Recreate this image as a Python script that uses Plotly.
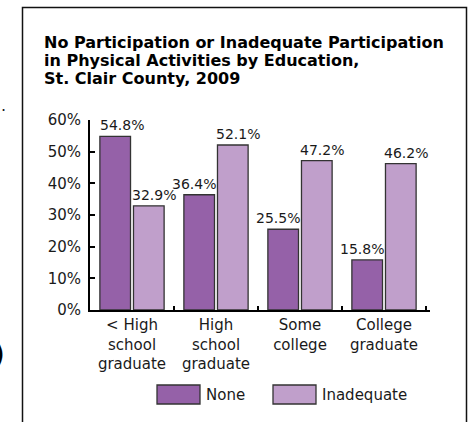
import plotly.graph_objects as go

CATEGORIES = [
    "< High<br>school<br>graduate",
    "High<br>school<br>graduate",
    "Some<br>college",
    "College<br>graduate",
]
SERIES_NAMES = ["None", "Inadequate"]
NONE_PCT = [54.8, 36.4, 25.5, 15.8]
INADEQUATE_PCT = [32.9, 52.1, 47.2, 46.2]
Y_TICKS = [0, 10, 20, 30, 40, 50, 60]

TITLE_LINES = [
    "No Participation or Inadequate Participation",
    "in Physical Activities by Education,",
    "St. Clair County, 2009",
]

COLORS = ["#9561a8", "#c09fcb"]
FONT = "DejaVu Sans, Verdana, sans-serif"

W, H = 470, 422
L, R, T, B = 90, 40, 120, 112


def px(x):
    """Pixel x -> paper x."""
    return (x - L) / (W - L - R)


def py(y):
    """Pixel y (from top) -> paper y."""
    return (H - B - y) / (H - T - B)


fig = go.Figure()
for name, values, color in zip(SERIES_NAMES, [NONE_PCT, INADEQUATE_PCT], COLORS):
    fig.add_trace(
        go.Bar(
            x=CATEGORIES,
            y=values,
            name=name,
            marker=dict(color=color, line=dict(color="#333333", width=1.3)),
            showlegend=False,
            hoverinfo="skip",
        )
    )

annotations = []
for i, (cat, v_none, v_inad) in enumerate(zip(CATEGORIES, NONE_PCT, INADEQUATE_PCT)):
    if i == 0:
        none_shift, none_anchor = -34, "left"
    else:
        none_shift, none_anchor = -22, "center"
    annotations.append(
        dict(x=cat, y=v_none, text=f"{v_none:.1f}%", showarrow=False,
             xanchor=none_anchor, yanchor="bottom", xshift=none_shift, yshift=1)
    )
    annotations.append(
        dict(x=cat, y=v_inad, text=f"{v_inad:.1f}%", showarrow=False,
             xanchor="center", yanchor="bottom", xshift=22, yshift=1)
    )

# title, one line per annotation to keep the tight line spacing
for line, y_mid in zip(TITLE_LINES, [42.5, 60.5, 78.5]):
    annotations.append(
        dict(xref="paper", yref="paper", x=px(42), y=py(y_mid), text=f"<b>{line}</b>",
             showarrow=False, xanchor="left", yanchor="middle",
             font=dict(size=16, color="#000000"))
    )

shapes = [
    dict(type="rect", xref="paper", yref="paper",
         x0=px(22.5), x1=px(466.5), y0=py(440), y1=py(7.5),
         line=dict(color="#111111", width=1.5), layer="below"),
]

# custom legend with wide swatches
legend_spots = [(157, 200), (273, 316)]
for name, color, (x0, x1) in zip(SERIES_NAMES, COLORS, legend_spots):
    shapes.append(
        dict(type="rect", xref="paper", yref="paper",
             x0=px(x0), x1=px(x1), y0=py(404), y1=py(385),
             fillcolor=color, line=dict(color="#333333", width=1.3))
    )
    annotations.append(
        dict(xref="paper", yref="paper", x=px(x1 + 4), y=py(395),
             text=name, showarrow=False, xanchor="left", yanchor="middle",
             font=dict(size=15))
    )

# stray marks from the surrounding page
annotations.append(
    dict(xref="paper", yref="paper", x=px(8), y=py(117), text=".",
         showarrow=False, xanchor="right", yanchor="bottom", font=dict(size=16))
)
annotations.append(
    dict(xref="paper", yref="paper", x=px(7), y=py(354), text="<b>)</b>",
         showarrow=False, xanchor="right", yanchor="middle",
         font=dict(size=28, color="#000000"))
)

fig.update_layout(
    width=W,
    height=H,
    margin=dict(l=L, r=R, t=T, b=B),
    paper_bgcolor="white",
    plot_bgcolor="white",
    font=dict(family=FONT, size=14, color="#1a1a1a"),
    barmode="group",
    bargap=0.2,
    bargroupgap=0.088,
    showlegend=False,
    annotations=annotations,
    shapes=shapes,
    xaxis=dict(
        showline=True,
        linecolor="#000000",
        linewidth=2,
        ticks="inside",
        tickson="boundaries",
        ticklen=4,
        tickwidth=2,
        tickcolor="#000000",
        tickfont=dict(size=15),
        showgrid=False,
    ),
    yaxis=dict(
        range=[0, 60],
        tickvals=Y_TICKS,
        ticktext=[f"{t}%" for t in Y_TICKS],
        showline=True,
        linecolor="#000000",
        linewidth=2,
        ticks="inside",
        ticklen=5,
        tickwidth=2,
        tickcolor="#000000",
        tickfont=dict(size=15),
        ticklabelstandoff=4,
        showgrid=False,
        zeroline=False,
    ),
)

fig.write_html(
    "out.html",
    config={"displayModeBar": False},
    post_script="document.body.style.margin = '0px';",
)
